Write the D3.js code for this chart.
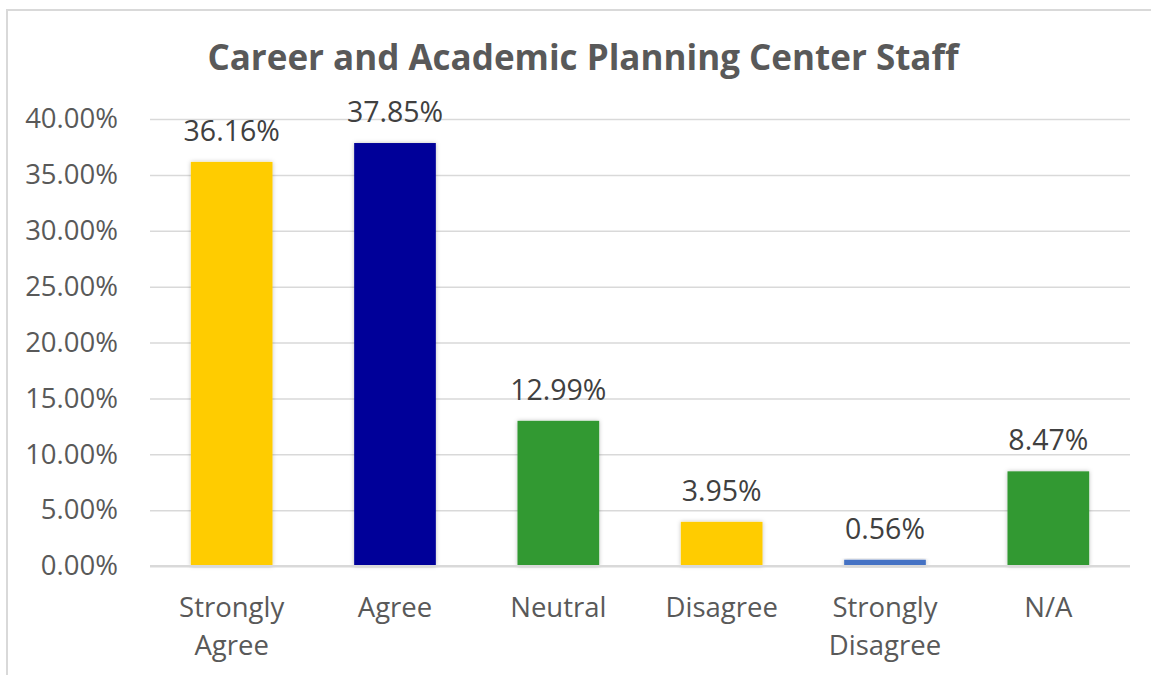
<script src="https://cdnjs.cloudflare.com/ajax/libs/d3/7.8.5/d3.min.js"></script>
<style>
    body { margin: 0; background: #fff; }
</style>
<svg id="main_canvas" width="1151" height="675"></svg>
<script>
    // chart data
    const categories = ["Strongly Agree", "Agree", "Neutral", "Disagree", "Strongly Disagree", "N/A"];
    const values = [36.16, 37.85, 12.99, 3.95, 0.56, 8.47];
    const barColors = ["#FFCC00", "#000099", "#339933", "#FFCC00", "#4472C4", "#339933"];
    const yTicks = [0, 5, 10, 15, 20, 25, 30, 35, 40];
    const title = "Career and Academic Planning Center Staff";

    const W = 1151, H = 675;
    const FONT = "'Open Sans', 'Noto Sans', sans-serif";
    const margins = { left: 150, right: 21, top: 119, bottom: 109 };

    const svg = d3.select("#main_canvas");

    // chart frame
    svg.append("rect")
        .attr("x", 7).attr("y", 10)
        .attr("width", W + 20).attr("height", H + 20)
        .attr("fill", "#fff")
        .attr("stroke", "#d9d9d9")
        .attr("stroke-width", 2);

    const defs = svg.append("defs");
    const shadow = defs.append("filter").attr("id", "shadow")
        .attr("x", "-20%").attr("y", "-20%").attr("width", "140%").attr("height", "140%");
    shadow.append("feDropShadow")
        .attr("dx", 0).attr("dy", 0).attr("stdDeviation", 2)
        .attr("flood-color", "#000").attr("flood-opacity", 0.25);

    const x = d3.scaleBand()
        .domain(categories)
        .range([margins.left, W - margins.right])
        .paddingInner(0.5)
        .paddingOuter(0.25);

    const y = d3.scaleLinear()
        .domain([0, 40])
        .range([H - margins.bottom, margins.top]);

    // gridlines + y labels
    const yAxis = svg.append("g")
        .attr("transform", `translate(${margins.left},0)`)
        .call(d3.axisLeft(y)
            .tickValues(yTicks)
            .tickSize(-(W - margins.right - margins.left))
            .tickPadding(32)
            .tickFormat(d => d.toFixed(2) + "%"));
    yAxis.select(".domain").remove();
    yAxis.selectAll(".tick line")
        .attr("stroke", "#d9d9d9")
        .attr("stroke-width", d => d === 0 ? 2 : 1.5);
    yAxis.selectAll(".tick text")
        .attr("fill", "#595959")
        .style("font", `27.5px ${FONT}`);

    // bars
    svg.append("g")
        .selectAll("rect")
        .data(values)
        .join("rect")
        .attr("x", (d, i) => x(categories[i]))
        .attr("y", d => y(d))
        .attr("width", x.bandwidth())
        .attr("height", d => y(0) - y(d))
        .attr("fill", (d, i) => barColors[i])
        .attr("filter", "url(#shadow)");

    // redraw baseline above bars
    svg.append("line")
        .attr("x1", margins.left).attr("x2", W - margins.right)
        .attr("y1", y(0)).attr("y2", y(0))
        .attr("stroke", "#d9d9d9").attr("stroke-width", 2);

    // data labels
    svg.append("g")
        .selectAll("text")
        .data(values)
        .join("text")
        .attr("x", (d, i) => x(categories[i]) + x.bandwidth() / 2)
        .attr("y", d => y(d) - 21)
        .attr("text-anchor", "middle")
        .attr("fill", "#404040")
        .style("font", `28.5px ${FONT}`)
        .text(d => d.toFixed(2) + "%");

    // category labels, wrapped on space
    svg.append("g")
        .selectAll("text")
        .data(categories)
        .join("text")
        .attr("x", d => x(d) + x.bandwidth() / 2)
        .attr("y", 617)
        .attr("text-anchor", "middle")
        .attr("fill", "#595959")
        .style("font", `27.5px ${FONT}`)
        .each(function (d) {
            const words = d === "N/A" ? [d] : d.split(" ");
            d3.select(this).selectAll("tspan")
                .data(words)
                .join("tspan")
                .attr("x", x(d) + x.bandwidth() / 2)
                .attr("dy", (w, i) => i === 0 ? 0 : 38)
                .text(w => w);
        });

    // title
    svg.append("text")
        .attr("x", 583)
        .attr("y", 70)
        .attr("text-anchor", "middle")
        .attr("fill", "#595959")
        .style("font", `bold 35px ${FONT}`)
        .text(title);
</script>
